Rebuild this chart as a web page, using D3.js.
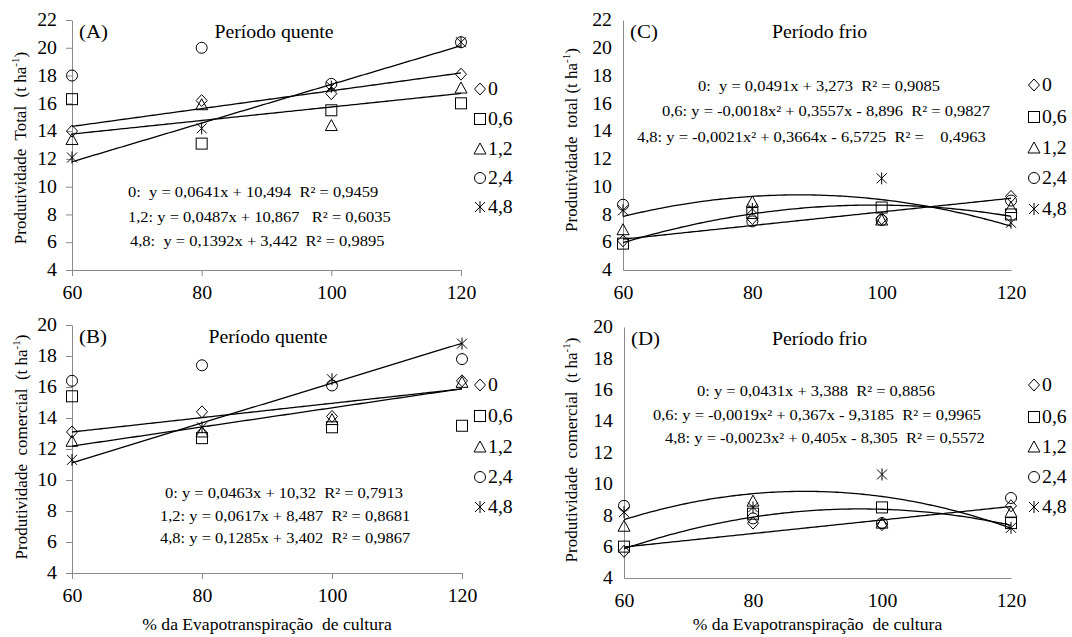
<!DOCTYPE html>
<html>
<head>
<meta charset="utf-8">
<script src="https://cdn.jsdelivr.net/npm/d3@7"></script>
<style>
  body { margin: 0; background: #fff; }
  svg { display: block; font-family: 'Liberation Serif', 'Times New Roman', serif; }
  text { fill: #000; white-space: pre; }
</style>
</head>
<body>
<svg id="chart" width="1072" height="637"></svg>
<script>
// ---- data ----------------------------------------------------------------
const etLevels = [60, 80, 100, 120];              // % of crop evapotranspiration
const doseNames = ["0", "0,6", "1,2", "2,4", "4,8"];
const yTicksTotal = [4, 6, 8, 10, 12, 14, 16, 18, 20, 22];
const yTicksCommercial = [4, 6, 8, 10, 12, 14, 16, 18, 20];

// (A) total yield, hot season (t/ha), one array per dose
const hotTotal0  = [14.0, 16.2, 16.7, 18.1];
const hotTotal06 = [16.3, 13.1, 15.5, 16.0];
const hotTotal12 = [13.4, 15.9, 14.4, 17.1];
const hotTotal24 = [18.0, 20.0, 17.4, 20.4];
const hotTotal48 = [12.1, 14.2, 17.2, 20.4];

// (B) commercial yield, hot season
const hotCom0  = [13.1, 14.4, 14.1, 16.4];
const hotCom06 = [15.4, 12.7, 13.4, 13.5];
const hotCom12 = [12.5, 13.1, 13.9, 16.3];
const hotCom24 = [16.4, 17.4, 16.1, 17.8];
const hotCom48 = [11.3, 13.4, 16.5, 18.8];

// (C) total yield, cold season
const coldTotal0  = [6.1, 7.7, 7.7, 9.3];
const coldTotal06 = [5.9, 8.1, 8.5, 8.0];
const coldTotal12 = [6.9, 8.9, 7.6, 8.5];
const coldTotal24 = [8.7, 7.5, 7.6, 9.0];
const coldTotal48 = [8.3, 8.4, 10.6, 7.4];

// (D) commercial yield, cold season
const coldCom0  = [5.7, 7.5, 7.4, 8.6];
const coldCom06 = [6.0, 8.1, 8.5, 7.5];
const coldCom12 = [7.3, 8.9, 7.5, 8.2];
const coldCom24 = [8.6, 7.8, 7.5, 9.1];
const coldCom48 = [8.2, 8.5, 10.6, 7.2];

// fitted trends: [a2, a1, a0] for y = a2*x² + a1*x + a0
const fitHotTotal0  = [0, 0.0641, 10.494];
const fitHotTotal12 = [0, 0.0487, 10.867];
const fitHotTotal48 = [0, 0.1392, 3.442];
const fitHotCom0  = [0, 0.0463, 10.32];
const fitHotCom12 = [0, 0.0617, 8.487];
const fitHotCom48 = [0, 0.1285, 3.402];
const fitColdTotal0  = [0, 0.0491, 3.273];
const fitColdTotal06 = [-0.0018, 0.3557, -8.896];
const fitColdTotal48 = [-0.0021, 0.3664, -6.5725];
const fitColdCom0  = [0, 0.0431, 3.388];
const fitColdCom06 = [-0.0019, 0.367, -9.3185];
const fitColdCom48 = [-0.0023, 0.405, -8.305];

// equation labels
const eqHotTotal  = ["0:  y = 0,0641x + 10,494  R² = 0,9459",
                     "1,2: y = 0,0487x + 10,867   R² = 0,6035",
                     "4,8:  y = 0,1392x + 3,442  R² = 0,9895"];
const eqHotCom    = ["0: y = 0,0463x + 10,32  R² = 0,7913",
                     "1,2: y = 0,0617x + 8,487  R² = 0,8681",
                     "4,8: y = 0,1285x + 3,402  R² = 0,9867"];
const eqColdTotal = ["0:  y = 0,0491x + 3,273  R² = 0,9085",
                     "0,6: y = -0,0018x² + 0,3557x - 8,896  R² = 0,9827",
                     "4,8: y = -0,0021x² + 0,3664x - 6,5725  R² =    0,4963"];
const eqColdCom   = ["0: y = 0,0431x + 3,388  R² = 0,8856",
                     "0,6: y = -0,0019x² + 0,367x - 9,3185  R² = 0,9965",
                     "4,8: y = -0,0023x² + 0,405x - 8,305  R² = 0,5572"];

// ---- drawing helpers -------------------------------------------------------
const SX = 1.1;               // horizontal widening of the serif lettering
const svg = d3.select("#chart");
const markerKinds = ["diamond", "square", "triangle", "circle", "star"];

function drawMarker(g, kind, cx, cy) {
  const s = g.append("g").attr("transform", `translate(${cx},${cy})`)
    .attr("fill", "none").attr("stroke", "#000").attr("stroke-width", 1);
  if (kind === "diamond") s.append("path").attr("d", "M0,-6L5.5,0L0,6L-5.5,0Z");
  else if (kind === "square") s.append("rect").attr("x", -5.5).attr("y", -5.5).attr("width", 11).attr("height", 11);
  else if (kind === "triangle") s.append("path").attr("d", "M0,-6L6,5L-6,5Z");
  else if (kind === "circle") s.append("circle").attr("r", 5.5);
  else s.append("path").attr("d", "M-5,-5L5,5M-5,5L5,-5M0,-6V6");
}

function addText(g, x, y, str, size, anchor) {
  return g.append("text")
    .attr("transform", `translate(${x},${y}) scale(${SX},1)`)
    .attr("font-size", size)
    .attr("text-anchor", anchor || "start")
    .text(str);
}

function panel(cfg) {
  const g = svg.append("g");
  const x = d3.scaleLinear().domain([60, 120]).range([cfg.x0, cfg.x1]);
  const y = d3.scaleLinear().domain([4, cfg.yTicks[cfg.yTicks.length - 1]]).range([cfg.yb, cfg.yt]);

  const ax = d3.axisBottom(x).tickValues(etLevels).tickSize(cfg.tick).tickSizeOuter(0).tickPadding(cfg.xpad);
  const ay = d3.axisLeft(y).tickValues(cfg.yTicks).tickSize(cfg.tick).tickSizeOuter(0).tickPadding(cfg.ypad);

  const gx = g.append("g").attr("transform", `translate(0,${cfg.yb})`).call(ax);
  const gy = g.append("g").attr("transform", `translate(${cfg.x0},0)`).call(ay);
  [gx, gy].forEach(a => {
    a.attr("font-family", null).attr("font-size", 18);
    a.selectAll(".domain, .tick line").attr("stroke", "#8a8a8a").attr("stroke-width", 1);
    a.selectAll(".tick text").each(function () {
      const t = d3.select(this);
      const tx = +t.attr("x") || 0, ty = +t.attr("y") || 0;
      t.attr("x", 0).attr("y", 0).attr("transform", `translate(${tx},${ty}) scale(${SX},1)`);
    });
  });

  // trend curves
  const line = d3.line().x(d => x(d[0])).y(d => y(d[1]));
  cfg.fits.forEach(c => {
    const pts = d3.range(60, 120.001, 0.5).map(v => [v, c[0] * v * v + c[1] * v + c[2]]);
    g.append("path").attr("d", line(pts)).attr("fill", "none")
      .attr("stroke", "#000").attr("stroke-width", 1.3);
  });

  // observed points
  cfg.series.forEach((vals, i) => {
    vals.forEach((v, j) => drawMarker(g, markerKinds[i], x(etLevels[j]), y(v)));
  });

  // legend
  cfg.legendY.forEach((ly, i) => {
    drawMarker(g, markerKinds[i], cfg.legendX, ly);
    addText(g, cfg.legendX + 8, ly + 6, doseNames[i], 18);
  });

  // equations
  cfg.eqs.forEach((s, i) => addText(g, cfg.eqX[i], cfg.eqY[i], s, 15));

  // panel letter and season
  addText(g, cfg.x0 + 7, cfg.yt + 18, cfg.letter, 19);
  addText(g, cfg.seasonX, cfg.yt + 18, cfg.season, 18, cfg.seasonAnchor);

  // y title
  const yt = g.append("text")
    .attr("transform", `translate(${cfg.ytitleX},${cfg.ytitleY}) rotate(-90)`)
    .attr("text-anchor", "middle").attr("font-size", 17).attr("dy", "0.35em");
  yt.append("tspan").text(cfg.ytitle);
  yt.append("tspan").attr("font-size", 11).attr("dy", "-0.6em").text("-1");
  yt.append("tspan").attr("font-size", 17).attr("dy", "0.4em").text(")");

  if (cfg.xtitle) addText(g, (cfg.x0 + cfg.x1) / 2, 630, cfg.xtitle, 16, "middle");
}

panel({
  x0: 72, x1: 461, yt: 20, yb: 270, yTicks: yTicksTotal, tick: 6, xpad: 10, ypad: 9,
  series: [hotTotal0, hotTotal06, hotTotal12, hotTotal24, hotTotal48],
  fits: [fitHotTotal0, fitHotTotal12, fitHotTotal48],
  eqs: eqHotTotal, eqX: [128, 128, 130], eqY: [197, 222, 246],
  legendX: 480, legendY: [89, 119, 149, 178, 207],
  letter: "(A)", season: "Período quente", seasonX: 274, seasonAnchor: "middle",
  ytitle: "Produtividade  Total  (t ha", ytitleX: 20, ytitleY: 148
});
panel({
  x0: 72, x1: 462, yt: 325, yb: 573, yTicks: yTicksCommercial, tick: 6, xpad: 10, ypad: 9,
  series: [hotCom0, hotCom06, hotCom12, hotCom24, hotCom48],
  fits: [fitHotCom0, fitHotCom12, fitHotCom48],
  eqs: eqHotCom, eqX: [165, 160, 160], eqY: [498, 521, 543],
  legendX: 480, legendY: [385, 416, 447, 477, 507],
  letter: "(B)", season: "Período quente", seasonX: 268, seasonAnchor: "middle",
  ytitle: "Produtividade  comercial  (t ha", ytitleX: 21, ytitleY: 447,
  xtitle: "% da Evapotranspiração  de cultura"
});
panel({
  x0: 623, x1: 1011, yt: 20, yb: 270, yTicks: yTicksTotal, tick: 0, xpad: 16, ypad: 11,
  series: [coldTotal0, coldTotal06, coldTotal12, coldTotal24, coldTotal48],
  fits: [fitColdTotal0, fitColdTotal06, fitColdTotal48],
  eqs: eqColdTotal, eqX: [698, 662, 637], eqY: [91, 116, 142],
  legendX: 1034, legendY: [85, 117, 148, 178, 209],
  letter: "(C)", season: "Período frio", seasonX: 772, seasonAnchor: "start",
  ytitle: "Produtividade  total (t ha", ytitleX: 571, ytitleY: 140
});
panel({
  x0: 624, x1: 1011, yt: 327, yb: 578, yTicks: yTicksCommercial, tick: 0, xpad: 16, ypad: 11,
  series: [coldCom0, coldCom06, coldCom12, coldCom24, coldCom48],
  fits: [fitColdCom0, fitColdCom06, fitColdCom48],
  eqs: eqColdCom, eqX: [697, 653, 665], eqY: [396, 420, 443],
  legendX: 1034, legendY: [385, 417, 447, 477, 507],
  letter: "(D)", season: "Período frio", seasonX: 772, seasonAnchor: "start",
  ytitle: "Produtividade  comercial  (t ha", ytitleX: 571, ytitleY: 450,
  xtitle: "% da Evapotranspiração  de cultura"
});
</script>
</body>
</html>
